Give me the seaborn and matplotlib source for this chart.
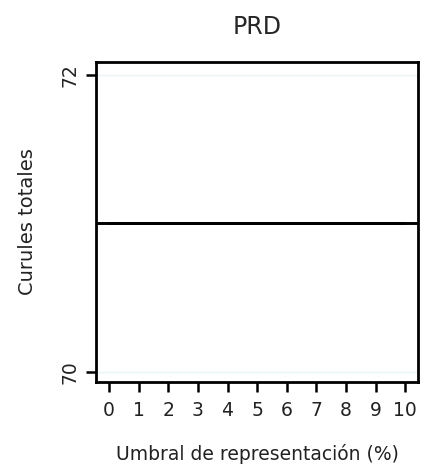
import numpy as np
import pandas as pd
import seaborn as sns
import matplotlib
matplotlib.use("Agg")
import matplotlib.pyplot as plt

# Data: seats by representation threshold
thresholds = [0, 1, 2, 3, 4, 5, 6, 7, 8, 9, 10]
seats = [71, 71, 71, 71, 71, 71, 71, 71, 71, 71, 71]
party = "PRD"
ytick_vals = [70, 72]

df = pd.DataFrame({"umbral": thresholds, "curules": seats})

sns.set_style("white")
plt.rcParams['font.family'] = ['DejaVu Sans']

fig = plt.figure(figsize=(4.25, 4.69), dpi=100)
ax = fig.add_axes([0.226, 0.1855, 0.758, 0.6825])

sns.lineplot(data=df, x="umbral", y="curules", color="black", linewidth=2.1, ax=ax)
# line runs across the whole plot region
ax.axhline(df["curules"].iloc[0], color="black", linewidth=2.1, zorder=3)

for v in ytick_vals:
    ax.axhline(v, color="#e6f6f6", linewidth=1.0, zorder=1)

ax.set_xlim(-0.44, 10.44)
ax.set_ylim(69.933, 72.0875)
ax.set_xticks(thresholds)
ax.set_yticks(ytick_vals)
ax.set_yticklabels([str(v) for v in ytick_vals], rotation=90, va="center")

for s in ax.spines.values():
    s.set_visible(True)
    s.set_color("black")
    s.set_linewidth(2.0)

ax.tick_params(axis="both", direction="out", length=7, width=1.8, color="black",
               labelsize=13.5, bottom=True, left=True, labelcolor="#222222")
ax.tick_params(axis="x", pad=7)
ax.tick_params(axis="y", pad=5)

ax.set_title(party, fontsize=17, pad=20)
ax.set_xlabel("Umbral de representación (%)", fontsize=13.5, labelpad=17, color="#222222")
ax.set_ylabel("Curules totales", fontsize=14, labelpad=17, color="#222222")

fig.savefig("out.png", dpi=100)
